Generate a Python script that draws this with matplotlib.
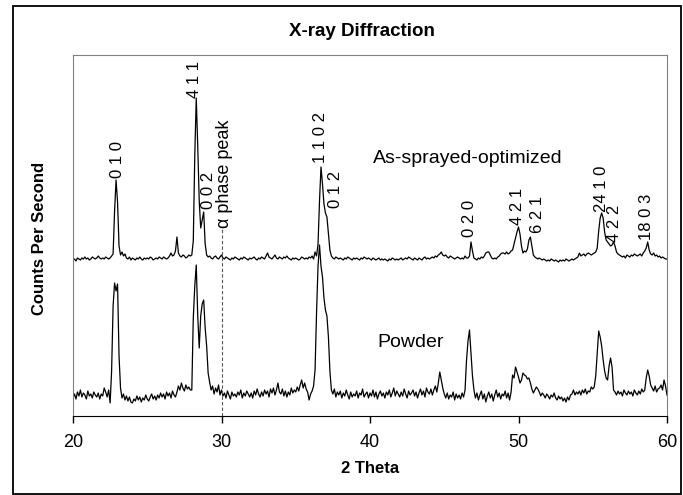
import numpy as np
import matplotlib.pyplot as plt
from matplotlib.patches import Rectangle

plt.rcParams['font.family'] = ['Liberation Sans', 'DejaVu Sans']

# intensities, one value every 0.1 deg from 20.0 to 60.0
counts_sprayed = [
    156, 157, 155, 158, 157, 156, 158, 157, 159, 157,
    158, 156, 157, 159, 158, 157, 158, 160, 158, 157,
    158, 157, 159, 158, 157, 158, 160, 162, 205, 236,
    214, 170, 161, 164, 160, 162, 158, 157, 159, 156,
    158, 157, 156, 158, 157, 159, 157, 156, 158, 157,
    158, 157, 159, 158, 156, 157, 158, 157, 159, 158,
    157, 159, 158, 157, 158, 160, 163, 160, 161, 165,
    179, 163, 160, 159, 161, 160, 158, 159, 161, 160,
    161, 175, 260, 318, 270, 215, 188, 196, 204, 172,
    161, 159, 160, 158, 157, 159, 160, 158, 157, 159,
    161, 158, 157, 159, 158, 157, 156, 158, 157, 159,
    158, 157, 156, 158, 157, 159, 158, 157, 156, 158,
    157, 158, 159, 157, 156, 158, 157, 159, 158, 157,
    160, 163, 159, 158, 157, 159, 161, 158, 157, 159,
    158, 157, 159, 158, 160, 158, 157, 156, 158, 157,
    158, 157, 156, 157, 159, 158, 157, 158, 157, 159,
    158, 160, 157, 164, 160, 172, 215, 249, 232, 212,
    203, 199, 183, 166, 160, 158, 157, 159, 158, 157,
    158, 157, 156, 158, 157, 159, 158, 157, 156, 158,
    157, 158, 157, 156, 158, 157, 159, 158, 157, 158,
    157, 156, 158, 157, 156, 157, 158, 156, 157, 156,
    157, 156, 155, 157, 156, 158, 157, 156, 157, 156,
    157, 158, 156, 157, 158, 157, 159, 158, 157, 156,
    158, 157, 156, 158, 157, 156, 158, 159, 157, 158,
    157, 158, 159, 158, 160, 159, 161, 162, 164, 161,
    160, 161, 159, 158, 160, 159, 158, 157, 158, 159,
    158, 157, 158, 157, 160, 158, 158, 160, 174, 165,
    158, 157, 156, 158, 157, 159, 158, 160, 163, 164,
    164, 161, 158, 157, 158, 157, 159, 160, 162, 163,
    163, 162, 164, 162, 163, 165, 166, 172, 178, 184,
    189, 182, 170, 163, 165, 164, 167, 176, 179, 170,
    161, 159, 158, 157, 158, 157, 156, 157, 156, 155,
    156, 155, 157, 156, 155, 156, 155, 154, 156, 155,
    156, 155, 157, 156, 155, 156, 157, 156, 157, 158,
    159, 163, 160, 161, 162, 160, 162, 163, 162, 161,
    162, 163, 164, 168, 185, 198, 203, 198, 184, 176,
    174, 172, 170, 171, 174, 170, 164, 162, 161, 160,
    159, 160, 158, 161, 160, 159, 161, 160, 162, 161,
    160, 161, 162, 160, 163, 165, 168, 174, 166, 162,
    161, 163, 160, 161, 159, 160, 158, 159, 158, 157,
    157,
]

counts_powder = [
    18, 22, 17, 24, 20, 26, 19, 23, 21, 17,
    25, 20, 22, 18, 24, 21, 19, 23, 17, 22,
    20, 28, 24, 19, 26, 13, 45, 110, 133, 125,
    132, 60, 28, 18, 22, 16, 20, 15, 19, 14,
    13, 17, 15, 20, 16, 19, 14, 18, 16, 21,
    17, 15, 19, 22, 17, 20, 16, 21, 18, 23,
    19, 22, 17, 24, 20, 23, 18, 25, 21, 19,
    24, 30, 26, 33, 28, 25, 31, 27, 29, 26,
    26, 98, 130, 151, 100, 68, 100, 112, 116, 88,
    70, 43, 34, 26, 30, 22, 28, 24, 31, 21,
    26, 20, 23, 18, 25, 21, 17, 24, 20, 22,
    19, 24, 21, 26, 18, 23, 20, 25, 22, 19,
    23, 18, 25, 21, 27, 22, 19, 24, 20, 26,
    22, 25, 19, 27, 23, 28, 21, 26, 33, 24,
    22, 27, 20, 25, 19, 24, 21, 28, 23, 26,
    24, 29, 25, 31, 36, 28, 33, 27, 24, 16,
    22, 25, 30, 46, 103, 150, 171, 150, 139, 118,
    106, 100, 79, 45, 26, 22, 27, 19, 24, 21,
    25, 18, 23, 20, 26, 21, 17, 24, 19, 22,
    20, 25, 18, 23, 21, 27, 19, 22, 24, 18,
    23, 20, 26, 19, 24, 17, 22, 25, 20, 23,
    18, 24, 21, 26, 19, 23, 28, 20, 25, 22,
    19, 24, 20, 27, 22, 18, 25, 21, 23, 26,
    20, 24, 18, 23, 27, 21, 25, 19, 28, 24,
    22, 27, 21, 26, 30, 24, 33, 44, 36, 28,
    22, 18, 23, 17, 21, 19, 24, 16, 22, 18,
    21, 17, 23, 19, 26, 56, 75, 86, 63, 40,
    26, 18, 23, 16, 21, 25, 17, 22, 14, 20,
    24, 18, 22, 15, 21, 26, 19, 23, 17, 22,
    20, 25, 18, 23, 16, 24, 41, 38, 49, 44,
    39, 33, 36, 43, 41, 40, 37, 38, 33, 27,
    23, 26, 29, 27, 24, 20, 23, 21, 18, 22,
    20, 17, 21, 19, 23, 18, 16, 20, 17, 19,
    15, 18, 14, 19, 16, 21, 22, 26, 21, 24,
    22, 25, 21, 26, 23, 27, 22, 25, 24, 29,
    27, 29, 40, 62, 85, 79, 70, 56, 45, 38,
    36, 50, 58, 49, 26, 24, 21, 25, 22, 24,
    20, 26, 23, 21, 25, 22, 24, 20, 26, 23,
    21, 25, 22, 27, 24, 26, 38, 46, 40, 31,
    28, 25, 30, 24, 27, 28, 31, 26, 36, 30,
    21,
]

two_theta = np.linspace(20, 60, len(counts_sprayed))

# peak labels: text, 2theta, height of the label foot
peak_labels = ['0 1 0', '4 1 1', '0 0 2', '1 1 0 2', '0 1 2', '0 2 0',
               '4 2 1', '6 2 1', '24 1 0', '4 2 2', '18 0 3']
peak_x = [23.0, 28.15, 29.1, 36.7, 37.65, 46.67, 49.9, 51.25, 55.6, 56.45, 58.65]
peak_y = [238, 318, 207, 253, 208, 179, 191, 183, 204, 174, 176]

alpha_x = 30.0
alpha_top = 188

W, H = 683, 495
fig = plt.figure(figsize=(W / 100, H / 100), dpi=100)
ax = fig.add_axes([73 / W, 1 - 416 / H, (667 - 73) / W, (416 - 55) / H])

ax.plot(two_theta, counts_sprayed, color='black', lw=0.9)
ax.plot(two_theta, counts_powder, color='black', lw=0.9)

ax.plot([alpha_x, alpha_x], [0, alpha_top], color='#555555', lw=0.8, ls=(0, (3, 2)))
ax.text(alpha_x + 0.17, alpha_top, '\u03b1 phase peak', rotation=90,
        ha='center', va='bottom', fontsize=13)

for lab, x, y in zip(peak_labels, peak_x, peak_y):
    ax.text(x, y, lab, rotation=90, ha='center', va='bottom', fontsize=12)

ax.text(40.2, 253, 'As-sprayed-optimized', fontsize=14, va='baseline')
ax.text(40.5, 69, 'Powder', fontsize=14, va='baseline')

ax.set_xlim(20, 60)
ax.set_ylim(0, 361)
ax.set_xticks([20, 30, 40, 50, 60])
ax.set_yticks([])
ax.tick_params(axis='x', direction='out', length=5, width=1, pad=8, labelsize=13)
for s in ['left', 'top', 'right']:
    ax.spines[s].set_color('#808080')
ax.spines['bottom'].set_color('black')

ax.set_xlabel('2 Theta', fontsize=12, fontweight='bold', labelpad=7)
fig.text(40 / W, 1 - 238 / H, 'Counts Per Second', rotation=90, ha='center',
         va='center', fontsize=12, fontweight='bold')
fig.text(362 / W, 1 - 31 / H, 'X-ray Diffraction', ha='center', va='center',
         fontsize=13.5, fontweight='bold')

fig.patches.append(Rectangle((13 / W, 1 - 494 / H), (681 - 13) / W, (494 - 6) / H,
                             transform=fig.transFigure, fill=False,
                             edgecolor='black', lw=1.3))

fig.savefig('out.png', dpi=100)
